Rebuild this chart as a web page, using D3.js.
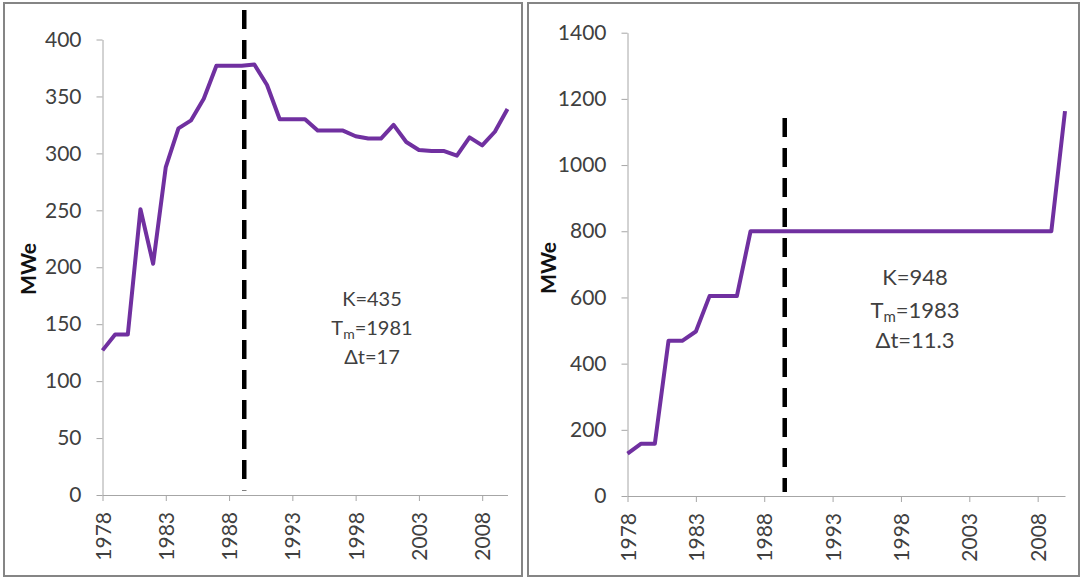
<!DOCTYPE html>
<html>
<head>
<meta charset="utf-8">
<script src="https://cdn.jsdelivr.net/npm/d3@7"></script>
<style>
  html, body { margin: 0; padding: 0; background: #fff; }
  svg { display: block; }
  text { font-family: Lato, "Open Sans", "Liberation Sans", sans-serif; }
</style>
</head>
<body>
<svg id="chart" width="1083" height="581"></svg>
<script>
// ---------------- data ----------------
const years = [1978,1979,1980,1981,1982,1983,1984,1985,1986,1987,1988,1989,1990,
               1991,1992,1993,1994,1995,1996,1997,1998,1999,2000,2001,2002,2003,
               2004,2005,2006,2007,2008,2009,2010];

const leftValues = [127,141,141,251,203,288,322,329,348,377,377,377,378,
                    360,330,330,330,320,320,320,315,313,313,325,310,303,
                    302,302,298,314,307,319,339];

const rightValues = [128,158,158,469,469,497,604,604,604,800,800,800,800,
                     800,800,800,800,800,800,800,800,800,800,800,800,800,
                     800,800,800,800,800,800,1163];

const xTickYears = [1978,1983,1988,1993,1998,2003,2008];
const leftYTicks = [0,50,100,150,200,250,300,350,400];
const rightYTicks = [0,200,400,600,800,1000,1200,1400];

const leftDivider = {year: 1989.2, from: 4, to: 426};
const rightDivider = {year: 1989.5, from: 12, to: 1142};

const leftNotes = ["K=435", ["T", "m", "=1981"], "Δt=17"];
const rightNotes = ["K=948", ["T", "m", "=1983"], "Δt=11.3"];
const yTitle = "MWe";

// ---------------- drawing ----------------
const svg = d3.select("#chart");
svg.append("rect").attr("width", 1083).attr("height", 581).attr("fill", "#fff");

function drawPanel(cfg) {
  const g = svg.append("g");

  // panel border
  g.append("rect")
    .attr("x", cfg.box[0]).attr("y", cfg.box[1])
    .attr("width", cfg.box[2]).attr("height", cfg.box[3])
    .attr("fill", "none").attr("stroke", "#858585").attr("stroke-width", 2);

  const x = d3.scaleLinear().domain([years[0], years[years.length - 1]]).range(cfg.xRange);
  const y = d3.scaleLinear().domain(cfg.yDomain).range(cfg.yRange);

  // y axis
  const yAxis = g.append("g")
    .attr("transform", `translate(${cfg.xRange[0]},0)`)
    .call(d3.axisLeft(y).tickValues(cfg.yTicks).tickFormat(d3.format("d"))
          .tickSize(6).tickSizeOuter(0).tickPadding(15));
  yAxis.select(".domain").attr("stroke", "#a6a6a6");
  yAxis.selectAll(".tick line").attr("stroke", "#a6a6a6");
  yAxis.selectAll(".tick text")
    .attr("fill", "#404040").style("font-size", "21px");

  // x axis
  const xAxis = g.append("g")
    .attr("transform", `translate(0,${cfg.yRange[0]})`)
    .call(d3.axisBottom(x).tickValues(xTickYears).tickFormat(d3.format("d"))
          .tickSize(6).tickSizeOuter(0));
  xAxis.select(".domain").attr("stroke", "#a6a6a6");
  xAxis.selectAll(".tick line").attr("stroke", "#a6a6a6");
  xAxis.selectAll(".tick text")
    .attr("fill", "#404040").style("font-size", "21px")
    .attr("transform", "rotate(-90)")
    .attr("text-anchor", "end")
    .attr("x", -17).attr("y", 0).attr("dy", "0.36em");

  // y title
  g.append("text")
    .attr("transform", `translate(${cfg.titleX},${cfg.titleY}) rotate(-90)`)
    .attr("text-anchor", "middle").attr("dy", "0.36em")
    .style("font-size", "21px").style("font-weight", "bold")
    .attr("fill", "#111")
    .text(yTitle);

  // data line
  const line = d3.line().x((d, i) => x(years[i])).y(d => y(d));
  g.append("path")
    .datum(cfg.values)
    .attr("d", line)
    .attr("fill", "none")
    .attr("stroke", "#7030A0")
    .attr("stroke-width", 4)
    .attr("stroke-linejoin", "round");

  // dashed divider
  g.append("line")
    .attr("x1", x(cfg.divider.year)).attr("x2", x(cfg.divider.year))
    .attr("y1", y(cfg.divider.to)).attr("y2", y(cfg.divider.from))
    .attr("stroke", "#000").attr("stroke-width", 4.5)
    .attr("stroke-dasharray", "19,11");

  // annotation
  const fs = cfg.noteSize;
  cfg.notes.forEach((n, i) => {
    const t = g.append("text")
      .attr("x", cfg.noteX).attr("y", cfg.noteY[i])
      .attr("text-anchor", "middle")
      .attr("fill", "#404040")
      .style("font-size", fs + "px");
    if (Array.isArray(n)) {
      t.append("tspan").text(n[0]);
      t.append("tspan").text(n[1]).style("font-size", Math.round(fs * 0.68) + "px").attr("dy", 4);
      t.append("tspan").text(n[2]).attr("dy", -4);
    } else {
      t.text(n);
    }
  });
}

drawPanel({
  box: [4, 3, 518, 573],
  xRange: [102.5, 507.5],
  yRange: [495, 39.5],
  yDomain: [0, 400],
  yTicks: leftYTicks,
  values: leftValues,
  divider: leftDivider,
  notes: leftNotes,
  noteX: 372, noteY: [306, 335, 364], noteSize: 20,
  titleX: 28, titleY: 269
});

drawPanel({
  box: [528, 3, 551, 573],
  xRange: [627.5, 1065],
  yRange: [496, 32.7],
  yDomain: [0, 1400],
  yTicks: rightYTicks,
  values: rightValues,
  divider: rightDivider,
  notes: rightNotes,
  noteX: 915, noteY: [285, 318, 348], noteSize: 22,
  titleX: 548, titleY: 268
});
</script>
</body>
</html>
